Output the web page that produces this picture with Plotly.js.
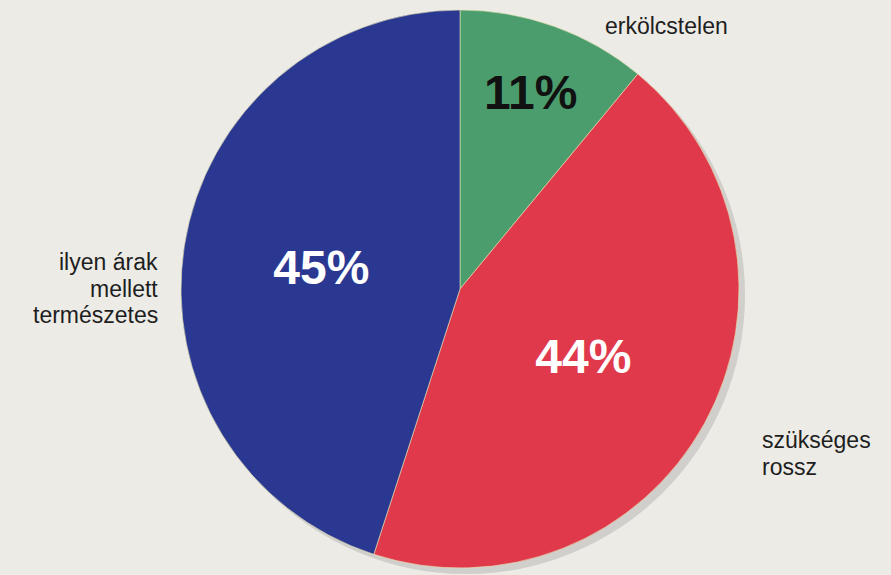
<!DOCTYPE html>
<html>
<head>
<meta charset="utf-8">
<script src="https://cdn.plot.ly/plotly-3.0.1.min.js"></script>
<style>html,body{margin:0;padding:0;background:#ecebe6;}#chart{width:891px;height:575px;}</style>
</head>
<body>
<div id="chart"></div>
<script>
var labels = ["erkölcstelen", "szükséges rossz", "ilyen árak mellett természetes"];
var values = [11, 44, 45];
var sliceColors = ["#4c9d6e", "#e0394b", "#2b3892"];
var pctColors = ["#111111", "#ffffff", "#ffffff"];
var labelLines = [["erkölcstelen"], ["szükséges", "rossz"], ["ilyen árak", "mellett", "természetes"]];

var W = 891, H = 575;
var cx = 460 / W, cy = 1 - 289 / H, r = 279;
function dom(dx, dy) {
  return {x: [cx - (r - dx) / W, cx + (r + dx) / W], y: [cy - (r + dy) / H, cy + (r - dy) / H]};
}

var shadow = {
  type: "pie",
  values: [1],
  labels: ["shadow"],
  sort: false,
  textinfo: "none",
  marker: {colors: ["rgba(60,60,70,0.16)"], line: {width: 0}},
  domain: dom(6, 6),
  hoverinfo: "skip",
  showlegend: false
};

var trace = {
  type: "pie",
  labels: labels,
  values: values,
  sort: false,
  direction: "clockwise",
  rotation: 0,
  textinfo: "percent",
  textposition: "inside",
  insidetextorientation: "horizontal",
  insidetextfont: {family: "Liberation Sans, Arial, sans-serif", size: 48, color: pctColors, weight: "bold"},
  marker: {colors: sliceColors, line: {color: "#e8e4b0", width: 0.6}},
  domain: dom(0, 0),
  hoverinfo: "label+percent",
  showlegend: false
};

var annFont = {family: "Liberation Sans, Arial, sans-serif", size: 23, color: "#1e1e1e"};
// anchor for each label block: [x px, first-line y px, xanchor]
var anchors = [[604, 26, "left"], [761, 440, "left"], [159, 262, "right"]];
var lineGap = 26.5;
var annotations = [];
labelLines.forEach(function (lines, i) {
  lines.forEach(function (ln, j) {
    annotations.push({
      text: ln,
      x: anchors[i][0] / W,
      y: 1 - (anchors[i][1] + j * lineGap) / H,
      xref: "paper", yref: "paper",
      xanchor: anchors[i][2], yanchor: "middle",
      borderpad: 0,
      showarrow: false,
      font: annFont
    });
  });
});

var layout = {
  width: W,
  height: H,
  margin: {l: 0, r: 0, t: 0, b: 0},
  paper_bgcolor: "#ecebe6",
  plot_bgcolor: "#ecebe6",
  showlegend: false,
  annotations: annotations
};

Plotly.newPlot("chart", [shadow, trace], layout, {displayModeBar: false, staticPlot: true});
</script>
</body>
</html>
